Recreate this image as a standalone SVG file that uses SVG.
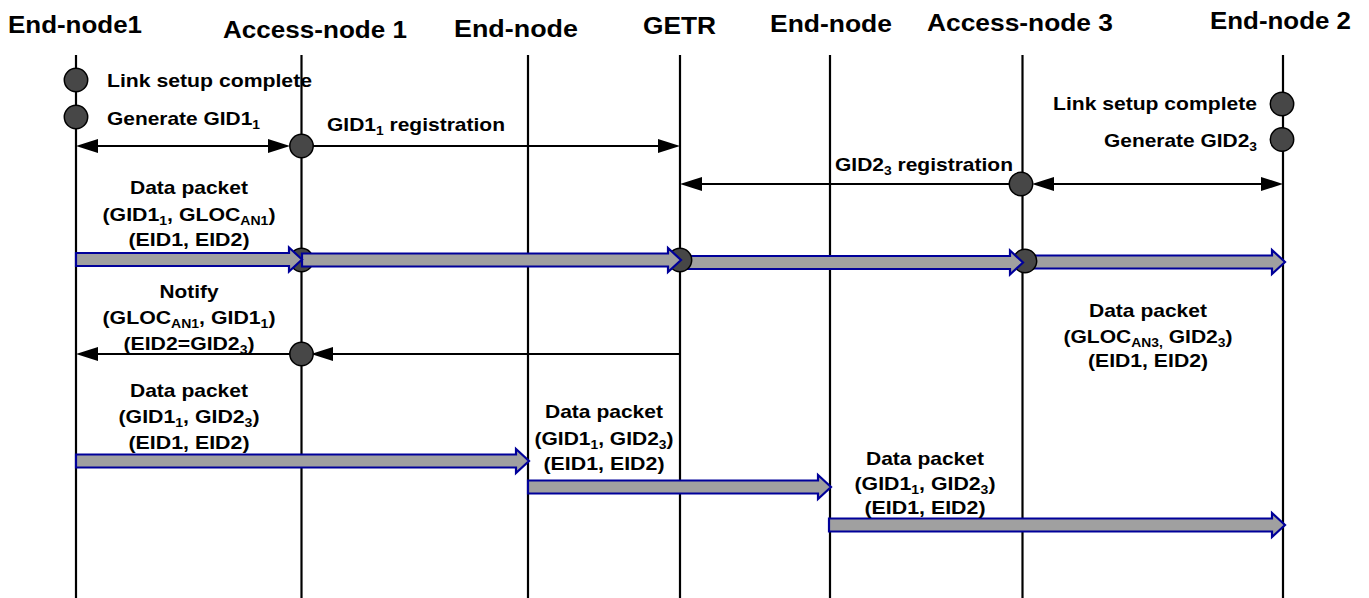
<svg xmlns="http://www.w3.org/2000/svg" width="1369" height="598" viewBox="0 0 1369 598">
<style>
text{font-family:"Liberation Sans",Arial,sans-serif;font-weight:bold;fill:#000}
.hdr{font-size:23px}
.lbl{font-size:19px}
.c{text-anchor:middle}
.e{text-anchor:end}
.sub{font-size:12.5px}
.life{stroke:#000;stroke-width:2.2}
.msg{stroke:#000;stroke-width:2;fill:none}
.dot{fill:#474747;stroke:#000;stroke-width:1.5}
.fat{fill:#a0a0a0;stroke:#00009a;stroke-width:2.2;stroke-linejoin:miter}
</style>
<defs>
<marker id="ah" viewBox="0 0 22 14" markerWidth="22" markerHeight="14" markerUnits="userSpaceOnUse" refX="19" refY="7" orient="auto-start-reverse">
<path d="M0,0 L22,7 L0,14 z" fill="#000"/>
</marker>
</defs>
<rect width="1369" height="598" fill="#fff"/>

<g id="end-node1">
<line class="life" x1="76" y1="55" x2="76" y2="598"/>
<text class="hdr" x="8" y="33" textLength="134" lengthAdjust="spacingAndGlyphs">End-node1</text>
</g>
<g id="access-node-1">
<line class="life" x1="301.5" y1="55" x2="301.5" y2="598"/>
<text class="hdr" x="223" y="37.5" textLength="184" lengthAdjust="spacingAndGlyphs">Access-node 1</text>
</g>
<g id="end-node-a">
<line class="life" x1="528" y1="55" x2="528" y2="598"/>
<text class="hdr" x="454" y="37" textLength="124" lengthAdjust="spacingAndGlyphs">End-node</text>
</g>
<g id="getr">
<line class="life" x1="680" y1="55" x2="680" y2="598"/>
<text class="hdr" x="643" y="34" textLength="73" lengthAdjust="spacingAndGlyphs">GETR</text>
</g>
<g id="end-node-b">
<line class="life" x1="830" y1="55" x2="830" y2="598"/>
<text class="hdr" x="770" y="32" textLength="122" lengthAdjust="spacingAndGlyphs">End-node</text>
</g>
<g id="access-node-3">
<line class="life" x1="1022.5" y1="55" x2="1022.5" y2="598"/>
<text class="hdr" x="927" y="31" textLength="186" lengthAdjust="spacingAndGlyphs">Access-node 3</text>
</g>
<g id="end-node-2">
<line class="life" x1="1283" y1="55" x2="1283" y2="598"/>
<text class="hdr" x="1210" y="29" textLength="141" lengthAdjust="spacingAndGlyphs">End-node 2</text>
</g>

<g id="events">
<circle class="dot" cx="76" cy="80" r="11.7"/>
<text class="lbl" x="107" y="87" textLength="205" lengthAdjust="spacingAndGlyphs">Link setup complete</text>
<circle class="dot" cx="76" cy="117" r="11.7"/>
<text class="lbl" x="107" y="124.5" textLength="153" lengthAdjust="spacingAndGlyphs">Generate GID1<tspan class="sub" dy="4">1</tspan></text>
<circle class="dot" cx="1282" cy="104" r="11.7"/>
<text class="lbl" x="1053" y="110" textLength="204" lengthAdjust="spacingAndGlyphs">Link setup complete</text>
<circle class="dot" cx="1282" cy="139.5" r="11.7"/>
<text class="lbl" x="1104" y="146.5" textLength="153" lengthAdjust="spacingAndGlyphs">Generate GID2<tspan class="sub" dy="4">3</tspan></text>
</g>

<g id="connectors">
<line class="msg" x1="79" y1="146" x2="287" y2="146" marker-start="url(#ah)" marker-end="url(#ah)"/>
<line class="msg" x1="301" y1="146" x2="677" y2="146" marker-end="url(#ah)"/>
<circle class="dot" cx="301.5" cy="146" r="11.7"/>
<text class="lbl" x="327" y="130.5" textLength="178" lengthAdjust="spacingAndGlyphs">GID1<tspan class="sub" dy="4">1</tspan><tspan dy="-4"> registration</tspan></text>

<line class="msg" x1="1021" y1="184" x2="683" y2="184" marker-end="url(#ah)"/>
<line class="msg" x1="1035" y1="184" x2="1280" y2="184" marker-start="url(#ah)" marker-end="url(#ah)"/>
<circle class="dot" cx="1021" cy="184" r="11.7"/>
<text class="lbl" x="835" y="171" textLength="178" lengthAdjust="spacingAndGlyphs">GID2<tspan class="sub" dy="4">3</tspan><tspan dy="-4"> registration</tspan></text>

<circle class="dot" cx="301.5" cy="260" r="11.7"/>
<polygon class="fat" points="1023,255.5 1272,255.5 1272,250 1285,262 1272,274 1272,268.5 1023,268.5"/>
<circle class="dot" cx="1025" cy="261" r="11.7"/>
<polygon class="fat" points="681,256 1010,256 1010,250.5 1023,262.5 1010,274.5 1010,269 681,269"/>
<circle class="dot" cx="680" cy="260" r="11.7"/>
<polygon class="fat" points="302,253.5 668,253.5 668,248 681,260 668,272 668,266.5 302,266.5"/>
<polygon class="fat" points="76,253 289,253 289,247.5 302,259.5 289,271.5 289,266 76,266"/>
<text class="lbl c" x="189" y="193.5" textLength="118" lengthAdjust="spacingAndGlyphs">Data packet</text>
<text class="lbl c" x="189" y="221" textLength="173" lengthAdjust="spacingAndGlyphs">(GID1<tspan class="sub" dy="4">1</tspan><tspan dy="-4">, GLOC</tspan><tspan class="sub" dy="4">AN1</tspan><tspan dy="-4">)</tspan></text>
<text class="lbl c" x="189" y="245.5" textLength="121" lengthAdjust="spacingAndGlyphs">(EID1, EID2)</text>

<line class="msg" x1="680" y1="354" x2="314" y2="354" marker-end="url(#ah)"/>
<line class="msg" x1="301" y1="354" x2="79" y2="354" marker-end="url(#ah)"/>
<circle class="dot" cx="301.5" cy="354" r="11.7"/>
<text class="lbl c" x="189" y="298" textLength="59" lengthAdjust="spacingAndGlyphs">Notify</text>
<text class="lbl c" x="189" y="324" textLength="173" lengthAdjust="spacingAndGlyphs">(GLOC<tspan class="sub" dy="4">AN1</tspan><tspan dy="-4">, GID1</tspan><tspan class="sub" dy="4">1</tspan><tspan dy="-4">)</tspan></text>
<text class="lbl c" x="189" y="349.5" textLength="131" lengthAdjust="spacingAndGlyphs">(EID2=GID2<tspan class="sub" dy="4">3</tspan><tspan dy="-4">)</tspan></text>

<text class="lbl c" x="1148" y="316.5" textLength="118" lengthAdjust="spacingAndGlyphs">Data packet</text>
<text class="lbl c" x="1148" y="343" textLength="169" lengthAdjust="spacingAndGlyphs">(GLOC<tspan class="sub" dy="4">AN3,</tspan><tspan dy="-4"> GID2</tspan><tspan class="sub" dy="4">3</tspan><tspan dy="-4">)</tspan></text>
<text class="lbl c" x="1148" y="367" textLength="120" lengthAdjust="spacingAndGlyphs">(EID1, EID2)</text>

<polygon class="fat" points="76,454.5 516,454.5 516,449 529,461 516,473 516,467.5 76,467.5"/>
<text class="lbl c" x="189" y="396.5" textLength="118" lengthAdjust="spacingAndGlyphs">Data packet</text>
<text class="lbl c" x="189" y="423" textLength="141" lengthAdjust="spacingAndGlyphs">(GID1<tspan class="sub" dy="4">1</tspan><tspan dy="-4">, GID2</tspan><tspan class="sub" dy="4">3</tspan><tspan dy="-4">)</tspan></text>
<text class="lbl c" x="189" y="448.5" textLength="121" lengthAdjust="spacingAndGlyphs">(EID1, EID2)</text>

<polygon class="fat" points="528,480.5 818,480.5 818,475 831,487 818,499 818,493.5 528,493.5"/>
<text class="lbl c" x="604" y="418" textLength="118" lengthAdjust="spacingAndGlyphs">Data packet</text>
<text class="lbl c" x="604" y="445" textLength="139" lengthAdjust="spacingAndGlyphs">(GID1<tspan class="sub" dy="4">1</tspan><tspan dy="-4">, GID2</tspan><tspan class="sub" dy="4">3</tspan><tspan dy="-4">)</tspan></text>
<text class="lbl c" x="604" y="469.5" textLength="121" lengthAdjust="spacingAndGlyphs">(EID1, EID2)</text>

<polygon class="fat" points="829,518.5 1272,518.5 1272,513 1285,525 1272,537 1272,531.5 829,531.5"/>
<text class="lbl c" x="925" y="464.5" textLength="118" lengthAdjust="spacingAndGlyphs">Data packet</text>
<text class="lbl c" x="925" y="489.5" textLength="141" lengthAdjust="spacingAndGlyphs">(GID1<tspan class="sub" dy="4">1</tspan><tspan dy="-4">, GID2</tspan><tspan class="sub" dy="4">3</tspan><tspan dy="-4">)</tspan></text>
<text class="lbl c" x="925" y="514" textLength="121" lengthAdjust="spacingAndGlyphs">(EID1, EID2)</text>
</g>
</svg>
